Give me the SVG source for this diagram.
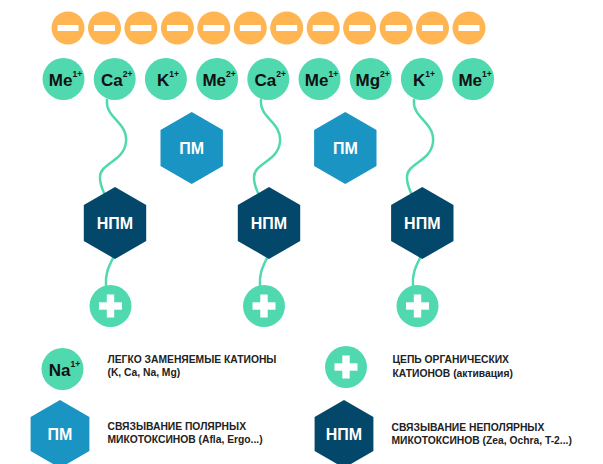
<svg xmlns="http://www.w3.org/2000/svg" width="603" height="464" viewBox="0 0 603 464">
<defs>
<style>
.neg{fill:#FFB552}
.bar{fill:#fff}
.cat{fill:#50D8AF}
.pm{fill:#1A94C3}
.npm{fill:#03486B}
.lbl{font-family:"Liberation Sans",Arial,sans-serif;font-weight:bold;font-size:17px;fill:#111;text-anchor:middle}
.sup{font-size:8.5px}
.hx{font-family:"Liberation Sans",Arial,sans-serif;font-weight:bold;font-size:16px;fill:#fff;text-anchor:middle}
.lg{font-family:"Liberation Sans",Arial,sans-serif;font-weight:bold;font-size:10.3px;fill:#222}
.wire{fill:none;stroke:#50D8AF;stroke-width:2.5;stroke-linecap:round}
</style>
<g id="minus"><circle r="16.5" class="neg"/><rect x="-10.5" y="-3" width="21" height="6" class="bar"/></g>
<g id="plus"><circle r="21" class="cat"/><rect x="-11.5" y="-3.7" width="23" height="7.4" class="bar"/><rect x="-3.7" y="-11.5" width="7.4" height="23" class="bar"/></g>
<polygon id="hex" points="0,-36 31.2,-18 31.2,18 0,36 -31.2,18 -31.2,-18"/>
<polygon id="hexs" points="0,-34 29.4,-17 29.4,17 0,34 -29.4,17 -29.4,-17"/>
</defs>
<rect width="603" height="464" fill="#fff"/>
<g id="connectors">
<path class="wire" d="M107,100 C105,118 128,122 126,142 C124,162 99,163 100,178 C100,184 102,188 104,193"/>
<path class="wire" d="M113,258 C108,268 105,275 106,286"/>
<path class="wire" d="M261,100 C259,118 282,122 280,142 C278,162 253,163 254,178 C254,184 256,188 258,193"/>
<path class="wire" d="M267,258 C262,268 259,275 260,286"/>
<path class="wire" d="M414,100 C412,118 435,122 433,142 C431,162 406,163 407,178 C407,184 409,188 411,193"/>
<path class="wire" d="M420,258 C415,268 412,275 413,286"/>
</g>
<g id="anions">
<use href="#minus" x="68" y="28"/><use href="#minus" x="104.5" y="28"/><use href="#minus" x="140.9" y="28"/><use href="#minus" x="177.4" y="28"/>
<use href="#minus" x="213.8" y="28"/><use href="#minus" x="250.3" y="28"/><use href="#minus" x="286.7" y="28"/><use href="#minus" x="323.2" y="28"/>
<use href="#minus" x="359.6" y="28"/><use href="#minus" x="396.1" y="28"/><use href="#minus" x="432.5" y="28"/><use href="#minus" x="469" y="28"/>
</g>
<g id="cation-1"><circle cx="63.5" cy="79" r="21" class="cat"/><text x="65.5" y="86" class="lbl">Me<tspan class="sup" dy="-9">1+</tspan></text></g>
<g id="cation-2"><circle cx="114.7" cy="79" r="21" class="cat"/><text x="116.7" y="86" class="lbl">Ca<tspan class="sup" dy="-9">2+</tspan></text></g>
<g id="cation-3"><circle cx="165.9" cy="79" r="21" class="cat"/><text x="167.9" y="86" class="lbl">K<tspan class="sup" dy="-9">1+</tspan></text></g>
<g id="cation-4"><circle cx="217.1" cy="79" r="21" class="cat"/><text x="219.1" y="86" class="lbl">Me<tspan class="sup" dy="-9">2+</tspan></text></g>
<g id="cation-5"><circle cx="268.3" cy="79" r="21" class="cat"/><text x="270.3" y="86" class="lbl">Ca<tspan class="sup" dy="-9">2+</tspan></text></g>
<g id="cation-6"><circle cx="319.5" cy="79" r="21" class="cat"/><text x="321.5" y="86" class="lbl">Me<tspan class="sup" dy="-9">1+</tspan></text></g>
<g id="cation-7"><circle cx="370.7" cy="79" r="21" class="cat"/><text x="372.7" y="86" class="lbl">Mg<tspan class="sup" dy="-9">2+</tspan></text></g>
<g id="cation-8"><circle cx="421.9" cy="79" r="21" class="cat"/><text x="423.9" y="86" class="lbl">K<tspan class="sup" dy="-9">1+</tspan></text></g>
<g id="cation-9"><circle cx="473.1" cy="79" r="21" class="cat"/><text x="475.1" y="86" class="lbl">Me<tspan class="sup" dy="-9">1+</tspan></text></g>
<g id="pm-1"><use href="#hex" x="191.7" y="148" class="pm"/><text x="191.7" y="154" class="hx">ПМ</text></g>
<g id="pm-2"><use href="#hex" x="345.3" y="148" class="pm"/><text x="345.3" y="154" class="hx">ПМ</text></g>
<g id="npm-1"><use href="#hex" x="115" y="223" class="npm"/><text x="115" y="229" class="hx">НПМ</text></g>
<g id="npm-2"><use href="#hex" x="269" y="223" class="npm"/><text x="269" y="229" class="hx">НПМ</text></g>
<g id="npm-3"><use href="#hex" x="422.3" y="223" class="npm"/><text x="422.3" y="229" class="hx">НПМ</text></g>
<g id="plus-1"><use href="#plus" x="110.5" y="306"/></g>
<g id="plus-2"><use href="#plus" x="264" y="306"/></g>
<g id="plus-3"><use href="#plus" x="417.5" y="306"/></g>
<g id="legend-cation"><circle cx="62.5" cy="369" r="21" class="cat"/><text x="64.5" y="376" class="lbl">Na<tspan class="sup" dy="-9">1+</tspan></text>
<text x="107.5" y="362.5" class="lg">ЛЕГКО ЗАМЕНЯЕМЫЕ КАТИОНЫ</text><text x="107.5" y="376" class="lg">(K, Ca, Na, Mg)</text></g>
<g id="legend-plus"><use href="#plus" x="346" y="367"/>
<text x="392.5" y="362.5" class="lg">ЦЕПЬ ОРГАНИЧЕСКИХ</text><text x="392.5" y="376.5" class="lg">КАТИОНОВ (активация)</text></g>
<g id="legend-pm"><use href="#hexs" x="60" y="434" class="pm"/><text x="60" y="440" class="hx">ПМ</text>
<text x="107.5" y="429.5" class="lg">СВЯЗЫВАНИЕ ПОЛЯРНЫХ</text><text x="107.5" y="442.5" class="lg">МИКОТОКСИНОВ (Afla, Ergo...)</text></g>
<g id="legend-npm"><use href="#hexs" x="344" y="434" class="npm"/><text x="344" y="440" class="hx">НПМ</text>
<text x="391.5" y="430.5" class="lg">СВЯЗЫВАНИЕ НЕПОЛЯРНЫХ</text><text x="391.5" y="443.5" class="lg">МИКОТОКСИНОВ (Zea, Ochra, T-2...)</text></g>
</svg>
